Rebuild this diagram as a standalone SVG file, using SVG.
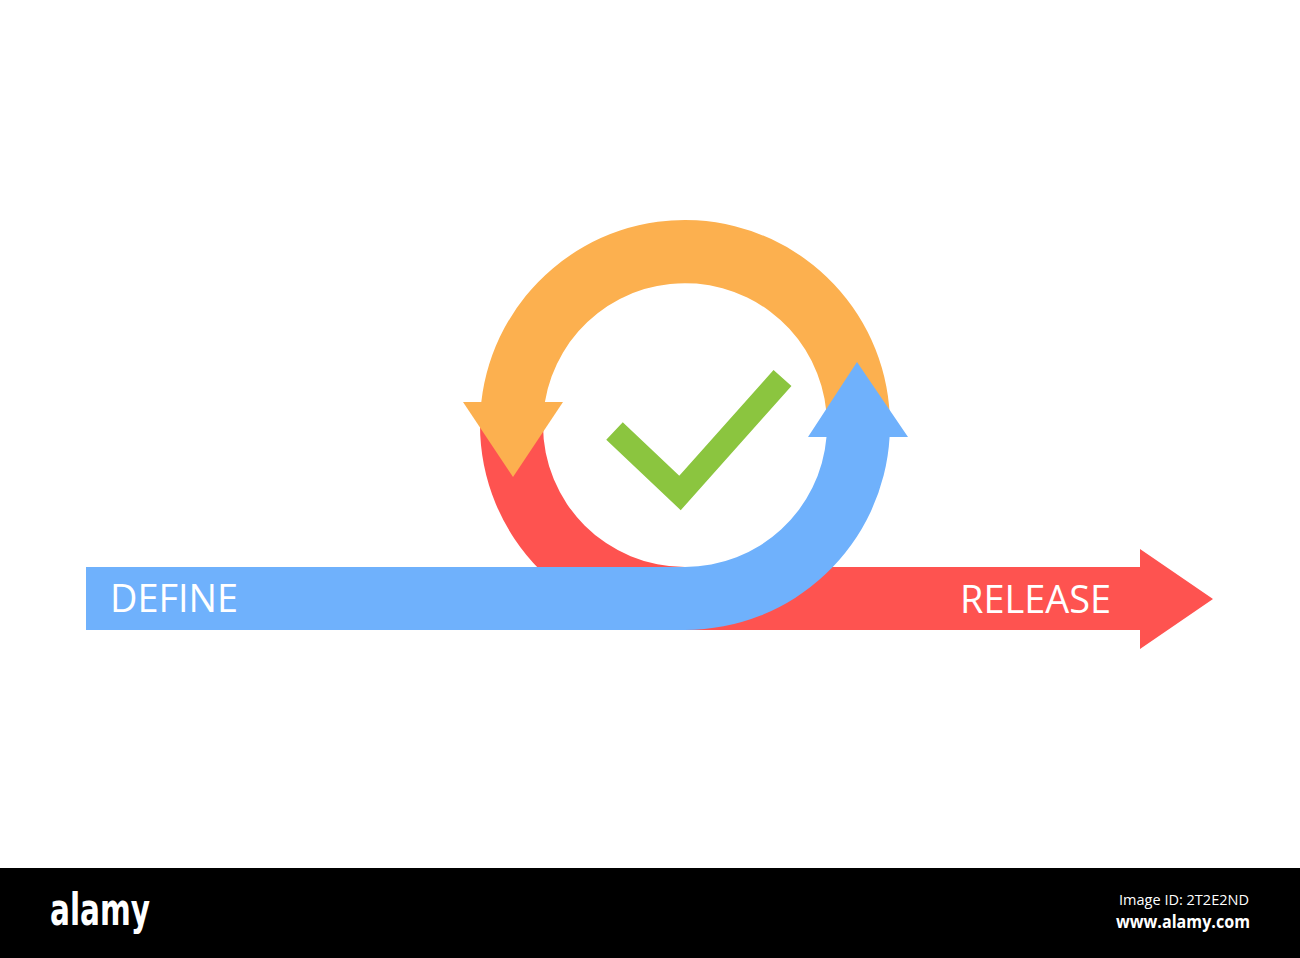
<svg xmlns="http://www.w3.org/2000/svg" width="1300" height="958" viewBox="0 0 1300 958">
  <style>
    .lbl { font-family: "Open Sans", "Liberation Sans", sans-serif; font-size: 38px; fill: #ffffff; }
    .red { fill: #fe5350; }
    .orange { fill: #fcb04f; }
    .blue { fill: #6fb1fc; }
    .check { fill: none; stroke: #8bc53f; stroke-width: 24; stroke-linejoin: miter; stroke-linecap: butt; }
  </style>
  <rect x="0" y="0" width="1300" height="958" fill="#ffffff"/>
  <g id="connectors">
    <g id="release-arrow">
      <path class="red" d="M 480 412 L 480 425 A 205 205 0 0 0 685 630 L 1140 630 L 1140 649 L 1213 599 L 1140 549 L 1140 567 L 685 567 A 142 142 0 0 1 543 425 L 543 412 Z"/>
    </g>
    <g id="orange-arrow">
      <path class="orange" d="M 481.3 402 A 205 205 0 0 1 890 425 L 827 425 A 142 142 0 0 0 544.9 402 Z"/>
      <polygon class="orange" points="463,402 563,402 513,477"/>
    </g>
    <g id="define-arrow">
      <path class="blue" d="M 86 567 L 685 567 A 142 142 0 0 0 826.5 437 L 808 437 L 857 362 L 908 437 L 889.6 437 A 205 205 0 0 1 685 630 L 86 630 Z"/>
    </g>
  </g>
  <g id="check">
    <polyline class="check" points="614.5,431 680,493 782.5,378"/>
  </g>
  <g id="define-label">
    <text class="lbl" x="110" y="612" textLength="128" lengthAdjust="spacingAndGlyphs">DEFINE</text>
  </g>
  <g id="release-label">
    <text class="lbl" x="960" y="613" textLength="151" lengthAdjust="spacingAndGlyphs">RELEASE</text>
  </g>
  <g id="footer">
    <rect x="0" y="868" width="1300" height="90" fill="#000000"/>
    <text x="50" y="925" font-family="'DejaVu Sans Condensed', 'Liberation Sans Narrow', 'Liberation Sans', sans-serif" font-weight="bold" font-size="44" fill="#ffffff" textLength="100" lengthAdjust="spacingAndGlyphs">alamy</text>
    <text x="1119" y="905" font-family="'Open Sans', 'DejaVu Sans', sans-serif" font-size="14" fill="#ffffff" textLength="130" lengthAdjust="spacingAndGlyphs">Image ID: 2T2E2ND</text>
    <text x="1116" y="928" font-family="'Open Sans', 'DejaVu Sans', sans-serif" font-weight="bold" font-size="17" fill="#ffffff" textLength="134" lengthAdjust="spacingAndGlyphs">www.alamy.com</text>
  </g>
</svg>
